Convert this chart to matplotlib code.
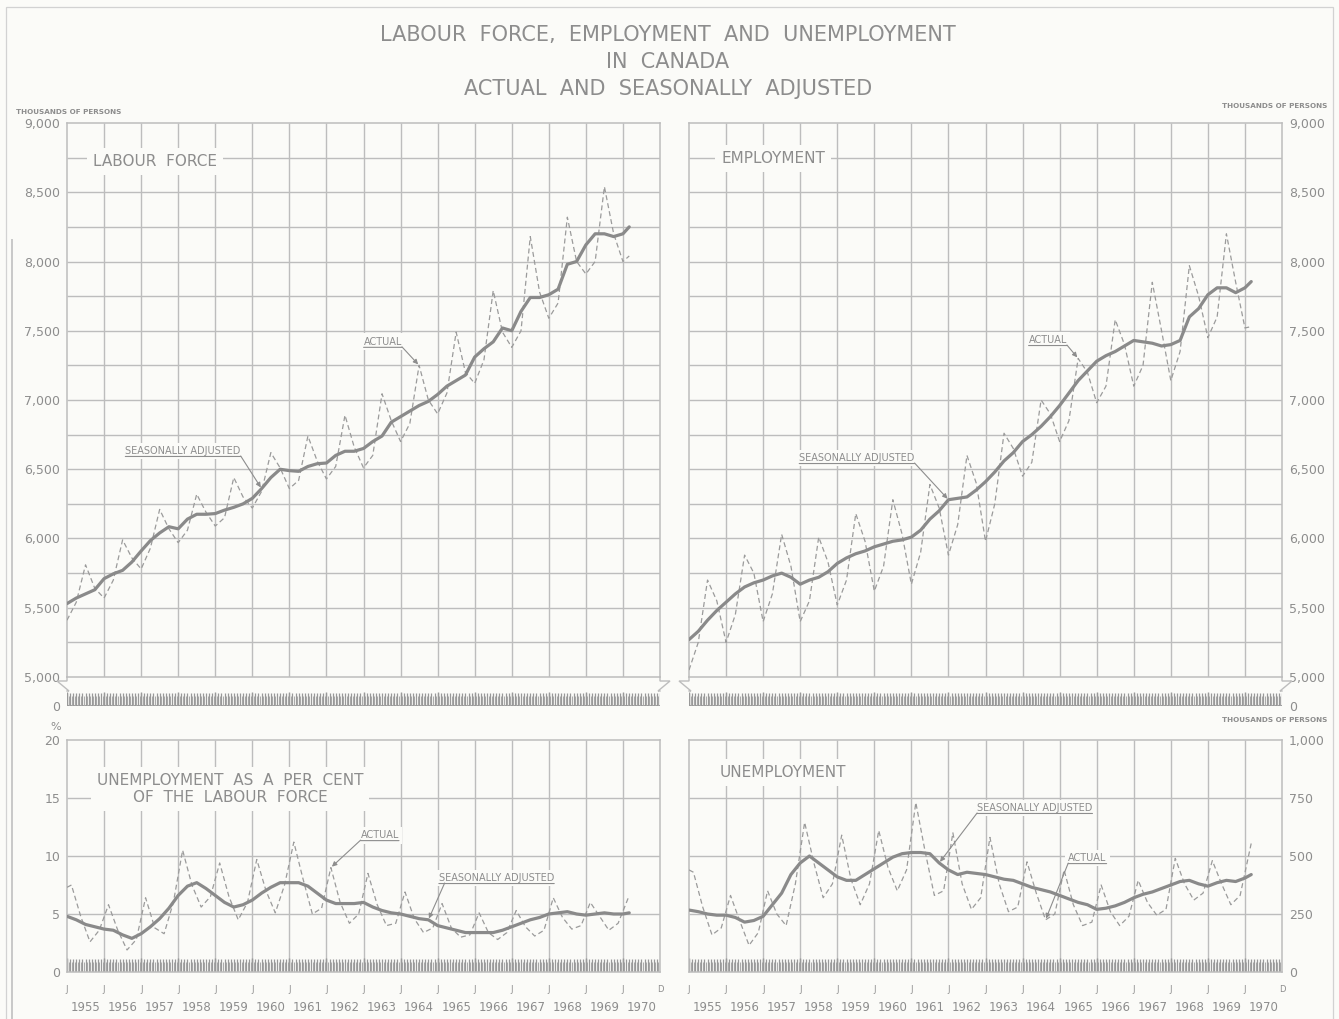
import numpy as np
import matplotlib
matplotlib.use("Agg")
import matplotlib.pyplot as plt
from matplotlib.lines import Line2D

W, H = 1339, 1019
PAPER = "#fbfbf8"
INK = "#8d8d8d"
GRID = "#bdbdbd"
LINE = "#8a8a8a"
NARROW = ["Liberation Sans Narrow", "DejaVu Sans"]

YEARS = list(range(1955, 1971))
MONTHS = [1955 + m / 12 for m in range(16 * 12 + 1)]
HALF_MONTHS = [1955 + (m + 0.5) / 12 for m in range(16 * 12)]
# quarterly readings (Jan, Apr, Jul, Oct) plus the last month shown
QTR = [1955 + 0.25 * k for k in range(61)] + [1970.17]
# unemployment actual: Feb, May, Aug, Nov readings
UQTR = [1955.0] + [y + f for y in range(1955, 1970) for f in (0.12, 0.37, 0.62, 0.87)] + [1970.17]

# labour force, thousands
lf_sa = [5530, 5570, 5600, 5630, 5710, 5745, 5770, 5830,
         5910, 5985, 6040, 6085, 6070, 6140, 6175, 6175,
         6180, 6205, 6225, 6250, 6290, 6360, 6440, 6500,
         6490, 6485, 6520, 6540, 6545, 6600, 6630, 6630,
         6650, 6700, 6740, 6840, 6880, 6920, 6960, 6990,
         7040, 7100, 7140, 7180, 7310, 7370, 7420, 7520,
         7500, 7640, 7740, 7740, 7760, 7800, 7980, 8000,
         8120, 8200, 8200, 8180, 8200, 8250]
lf_act = [5410, 5540, 5810, 5640, 5570, 5700, 5990, 5860,
          5780, 5930, 6210, 6070, 5970, 6060, 6320, 6190,
          6090, 6150, 6440, 6300, 6220, 6340, 6620, 6510,
          6360, 6420, 6740, 6560, 6430, 6520, 6890, 6660,
          6510, 6600, 7045, 6850, 6700, 6830, 7250, 7000,
          6900, 7050, 7490, 7200, 7120, 7290, 7790, 7490,
          7380, 7500, 8180, 7780, 7590, 7700, 8320, 8000,
          7910, 8000, 8540, 8200, 8000, 8040]

# employment, thousands
emp_sa = [5270, 5330, 5410, 5480, 5540, 5600, 5650, 5680,
          5700, 5730, 5750, 5720, 5670, 5700, 5720, 5760,
          5820, 5860, 5890, 5910, 5940, 5960, 5980, 5990,
          6010, 6060, 6140, 6200, 6280, 6290, 6300, 6350,
          6410, 6480, 6560, 6620, 6700, 6750, 6810, 6880,
          6960, 7050, 7140, 7210, 7280, 7320, 7350, 7390,
          7430, 7420, 7410, 7390, 7400, 7430, 7600, 7660,
          7760, 7810, 7810, 7775, 7810, 7855]
emp_act = [5050, 5250, 5700, 5550, 5250, 5450, 5880, 5750,
           5400, 5600, 6030, 5800, 5400, 5550, 6010, 5830,
           5520, 5700, 6180, 5980, 5620, 5800, 6280, 6030,
           5670, 5900, 6390, 6220, 5880, 6100, 6600, 6400,
           5980, 6250, 6760, 6650, 6450, 6550, 7000, 6900,
           6700, 6850, 7300, 7200, 6980, 7100, 7580, 7400,
           7100, 7250, 7850, 7500, 7140, 7350, 7970, 7750,
           7450, 7600, 8200, 7850, 7520, 7530]

# unemployment rate, per cent
ur_sa = [4.8, 4.5, 4.1, 3.9, 3.7, 3.6, 3.2, 2.9,
         3.3, 3.9, 4.6, 5.5, 6.6, 7.4, 7.7, 7.2,
         6.6, 6.0, 5.6, 5.8, 6.2, 6.8, 7.3, 7.7,
         7.7, 7.7, 7.4, 6.8, 6.2, 5.9, 5.9, 5.9,
         6.0, 5.6, 5.3, 5.1, 5.0, 4.8, 4.6, 4.5,
         4.0, 3.8, 3.6, 3.4, 3.4, 3.4, 3.4, 3.6,
         3.9, 4.2, 4.5, 4.7, 5.0, 5.1, 5.2, 5.0,
         4.9, 5.0, 5.1, 5.0, 5.0, 5.1]
ur_act = [7.3, 7.5, 4.8, 2.6, 3.6, 5.8, 3.6, 1.9, 2.8,
          6.4, 3.8, 3.3, 6.0, 10.5, 7.5, 5.6, 6.5,
          9.4, 6.5, 4.5, 6.0, 9.7, 7.0, 5.1, 7.5,
          11.2, 8.0, 5.0, 5.5, 9.0, 6.0, 4.2, 5.0,
          8.5, 5.8, 4.0, 4.2, 6.9, 4.6, 3.4, 3.8,
          5.9, 3.8, 3.0, 3.2, 5.1, 3.4, 2.8, 3.4,
          5.3, 3.9, 3.1, 3.6, 6.4, 4.7, 3.7, 4.0,
          6.0, 4.8, 3.6, 4.2, 6.6]

# unemployment, thousands
un_sa = [267, 260, 250, 245, 245, 235, 215, 222,
         240, 290, 340, 420, 470, 500, 470, 440,
         410, 395, 395, 420, 445, 470, 495, 510,
         515, 515, 510, 470, 440, 420, 430, 425,
         420, 410, 400, 395, 380, 365, 355, 345,
         330, 315, 300, 290, 270, 275, 285, 300,
         320, 335, 345, 360, 375, 390, 395, 380,
         370, 385, 395, 390, 405, 420]
un_act = [440, 430, 280, 160, 190, 330, 220, 115, 170,
          350, 250, 200, 380, 645, 470, 320, 380,
          590, 400, 290, 380, 610, 450, 350, 440,
          730, 520, 330, 350, 600, 380, 270, 320,
          580, 380, 260, 280, 475, 340, 225, 250,
          440, 290, 200, 215, 375, 260, 200, 240,
          395, 300, 245, 270, 490, 380, 310, 340,
          480, 380, 290, 330, 555]

LF_TICKS = [5000, 5500, 6000, 6500, 7000, 7500, 8000, 8500, 9000]
UR_TICKS = [0, 5, 10, 15, 20]
UN_TICKS = [0, 250, 500, 750, 1000]


def px_box(x0, y0, x1, y1):
    return [x0 / W, 1 - y1 / H, (x1 - x0) / W, (y1 - y0) / H]


def fig_line(fig, pts, lw=1.0, color=GRID):
    xs = [p[0] / W for p in pts]
    ys = [1 - p[1] / H for p in pts]
    fig.add_artist(Line2D(xs, ys, lw=lw, color=color, solid_joinstyle="miter"))


def at(times, t):
    return int(np.argmin(np.abs(np.asarray(times) - t)))


def panel(fig, box, ylim, hstep, ticks, labels, right):
    ax = fig.add_axes(box)
    ax.set_facecolor("none")
    ax.set_xlim(1955, 1971)
    ax.set_ylim(*ylim)
    for s in ax.spines.values():
        s.set_color(GRID)
        s.set_linewidth(1.1)
    ax.vlines(YEARS[1:], ylim[0], ylim[1], color=GRID, lw=1.0, zorder=1)
    ax.hlines(np.arange(ylim[0] + hstep, ylim[1], hstep), 1955, 1971,
              color=GRID, lw=1.0, zorder=1)
    ax.set_yticks(ticks, labels=labels)
    if right:
        ax.yaxis.tick_right()
    ax.tick_params(axis="y", length=0, pad=5, labelsize=9, labelcolor=INK)
    for lab in ax.get_yticklabels():
        lab.set_family(NARROW)
    ax.set_xticks([])
    return ax


def month_strip(ax, top):
    tr = ax.get_xaxis_transform()
    ax.vlines(HALF_MONTHS, 0, top * 0.8, transform=tr, color="#a8a8a8", lw=0.7, zorder=2)
    ax.vlines(MONTHS, 0, top, transform=tr, color="#999999", lw=0.9, zorder=2)
    ax.vlines(YEARS, 0, top * 1.1, transform=tr, color="#999999", lw=1.0, zorder=2)


def year_axis(ax):
    ax.set_xticks([y + 0.5 for y in YEARS], labels=[str(y) for y in YEARS])
    ax.set_xticks(YEARS + [1971], labels=["J"] * len(YEARS) + ["D"], minor=True)
    ax.tick_params(axis="x", which="major", length=0, pad=21, labelsize=8.5, labelcolor=INK)
    ax.tick_params(axis="x", which="minor", length=0, pad=9, labelsize=6, labelcolor=INK)
    for lab in ax.get_xticklabels():
        lab.set_family(NARROW)


def draw_series(ax, t_act, act, t_sa, sa):
    ax.plot(t_act, act, color="#9b9b9b", lw=0.9, dashes=(4, 2.5), zorder=4)
    ax.plot(t_sa, sa, color=LINE, lw=2.3, solid_capstyle="round",
            solid_joinstyle="round", zorder=5)


def tag(ax, label, pos, target, rel):
    txt = ax.text(pos[0], pos[1], label, ha="center", va="center", fontsize=7,
                  color=INK, zorder=6,
                  bbox=dict(boxstyle="square,pad=0.35", fc=PAPER, ec="none"))
    ax.annotate("", xy=(1, -0.05), xycoords=txt, xytext=(0, -0.05), textcoords=txt,
                arrowprops=dict(arrowstyle="-", color=INK, lw=0.8,
                                shrinkA=0, shrinkB=0), zorder=7)
    ax.annotate("", xy=target, xycoords="data", xytext=rel, textcoords=txt,
                arrowprops=dict(arrowstyle="-|>", color=INK, lw=0.8, mutation_scale=7,
                                shrinkA=0, shrinkB=1), zorder=7)


def title(ax, text, x, y):
    ax.text(x, y, text, transform=ax.transAxes, ha="center", va="center",
            fontsize=11, color=INK, zorder=6, linespacing=1.15,
            bbox=dict(boxstyle="square,pad=0.4", fc=PAPER, ec="none"))


def break_mark(fig, x, side):
    o = side * 10
    fig_line(fig, [(x, 677), (x, 681), (x + o, 681), (x - side * 2, 691), (x, 691)])


fig = plt.figure(figsize=(W / 100, H / 100), dpi=100, facecolor=PAPER)

# faint page frame
fig_line(fig, [(6, 1019), (6, 7), (1333, 7), (1333, 1019)], lw=0.9, color="#d2d2d2")
fig_line(fig, [(12, 240), (12, 1019)], lw=1.4, color="#c8c8c8")

fig.text(668 / W, 1 - 35 / H, "LABOUR  FORCE,  EMPLOYMENT  AND  UNEMPLOYMENT",
         ha="center", va="center", fontsize=15, color=INK)
fig.text(668 / W, 1 - 62 / H, "IN  CANADA", ha="center", va="center",
         fontsize=15, color=INK)
fig.text(668 / W, 1 - 89 / H, "ACTUAL  AND  SEASONALLY  ADJUSTED",
         ha="center", va="center", fontsize=15, color=INK)

small = dict(fontsize=5.2, color=INK, weight="bold", va="center")
fig.text(16 / W, 1 - 112 / H, "THOUSANDS OF PERSONS", ha="left", **small)
fig.text(1327 / W, 1 - 106 / H, "THOUSANDS OF PERSONS", ha="right", **small)
fig.text(1327 / W, 1 - 720 / H, "THOUSANDS OF PERSONS", ha="right", **small)
fig.text(61 / W, 1 - 727 / H, "%", ha="right", va="center", fontsize=8, color=INK)

lf_labels = [f"{v:,}" for v in LF_TICKS]

# ---- labour force ----
ax_lf = panel(fig, px_box(67, 123, 660, 677), (5000, 9000), 250,
              LF_TICKS, lf_labels, right=False)
draw_series(ax_lf, QTR, lf_act, QTR, lf_sa)
title(ax_lf, "LABOUR  FORCE", 0.148, 0.931)
i = at(QTR, 1964.5)
tag(ax_lf, "ACTUAL", (1963.52, 7420), (QTR[i], lf_act[i]), (1.0, 0.0))
i = at(QTR, 1960.25)
tag(ax_lf, "SEASONALLY ADJUSTED", (1958.13, 6632), (QTR[i], lf_sa[i]), (1.0, 0.0))

# ---- employment ----
ax_em = panel(fig, px_box(689, 123, 1282, 677), (5000, 9000), 250,
              LF_TICKS, lf_labels, right=True)
draw_series(ax_em, QTR, emp_act, QTR, emp_sa)
title(ax_em, "EMPLOYMENT", 0.142, 0.936)
i = at(QTR, 1965.5)
tag(ax_em, "ACTUAL", (1964.68, 7433), (QTR[i], emp_act[i]), (1.0, 0.0))
i = at(QTR, 1962.0)
tag(ax_em, "SEASONALLY ADJUSTED", (1959.53, 6581), (QTR[i], emp_sa[i]), (1.0, 0.0))

# zero strips under the broken scales
for box, right in ((px_box(67, 691, 660, 706), False), (px_box(689, 691, 1282, 706), True)):
    s = fig.add_axes(box)
    s.set_facecolor("none")
    s.set_xlim(1955, 1971)
    s.set_ylim(0, 1)
    for sp in s.spines.values():
        sp.set_visible(False)
    s.axhline(0, color="#a0a0a0", lw=2.2)
    month_strip(s, 0.85)
    s.set_xticks([])
    s.set_yticks([0], labels=["0"])
    if right:
        s.yaxis.tick_right()
    s.tick_params(axis="y", length=0, pad=5, labelsize=9, labelcolor=INK)

for x, side in ((67, -1), (660, 1), (689, -1), (1282, 1)):
    break_mark(fig, x, side)

# ---- unemployment rate ----
ax_ur = panel(fig, px_box(67, 740, 660, 972), (0, 20), 5,
              UR_TICKS, [str(v) for v in UR_TICKS], right=False)
month_strip(ax_ur, 0.055)
year_axis(ax_ur)
draw_series(ax_ur, UQTR, ur_act, QTR, ur_sa)
title(ax_ur, "UNEMPLOYMENT  AS  A  PER  CENT\nOF  THE  LABOUR  FORCE", 0.275, 0.79)
i = at(UQTR, 1962.12)
tag(ax_ur, "ACTUAL", (1963.44, 11.8), (UQTR[i], ur_act[i]), (0.0, 0.0))
i = at(QTR, 1964.75)
tag(ax_ur, "SEASONALLY ADJUSTED", (1966.59, 8.1), (QTR[i], ur_sa[i]), (0.05, 0.0))

# ---- unemployment ----
ax_un = panel(fig, px_box(689, 740, 1282, 972), (0, 1000), 250,
              UN_TICKS, [f"{v:,}" for v in UN_TICKS], right=True)
month_strip(ax_un, 0.055)
year_axis(ax_un)
draw_series(ax_un, UQTR, un_act, QTR, un_sa)
title(ax_un, "UNEMPLOYMENT", 0.158, 0.86)
i = at(QTR, 1961.75)
tag(ax_un, "SEASONALLY ADJUSTED", (1964.33, 707), (QTR[i], un_sa[i]), (0.0, 0.0))
i = at(UQTR, 1964.62)
tag(ax_un, "ACTUAL", (1965.75, 491), (UQTR[i], un_act[i]), (0.0, 0.0))

fig.savefig("out.png", dpi=100, facecolor=PAPER)
